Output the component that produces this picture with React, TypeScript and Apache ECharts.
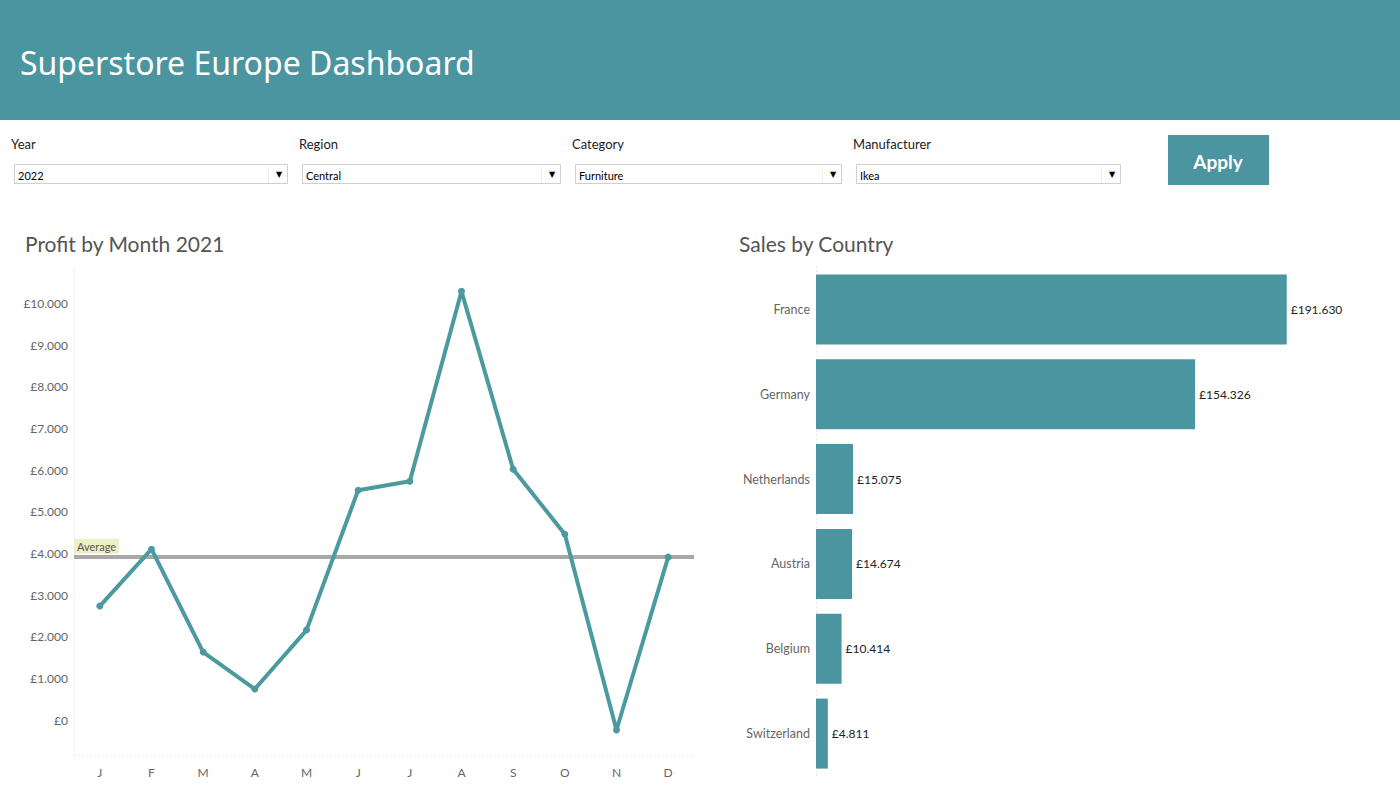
import React, { useEffect, useRef } from "react";
import * as echarts from "echarts";

const months = ["J", "F", "M", "A", "M", "J", "J", "A", "S", "O", "N", "D"];
const profit = [2734, 4100, 1630, 743, 2158, 5516, 5731, 10288, 6019, 4460, -240, 3909];
const profitTicks = [0, 1000, 2000, 3000, 4000, 5000, 6000, 7000, 8000, 9000, 10000];

const countries = ["France", "Germany", "Netherlands", "Austria", "Belgium", "Switzerland"];
const sales = [191630, 154326, 15075, 14674, 10414, 4811];

const filterLabels = ["Year", "Region", "Category", "Manufacturer"];
const filterValues = ["2022", "Central", "Furniture", "Ikea"];

const TEAL = "#4a95a0";
const LINE = "#4b9aa0";
const FONT = "Lato, 'Open Sans', sans-serif";

const fmt = (v: number) => {
  const neg = v < 0;
  const s = Math.round(Math.abs(v)).toString().replace(/\B(?=(\d{3})+(?!\d))/g, ".");
  return (neg ? "-£" : "£") + s;
};

const filterBoxes = [
  { lx: 11, bx: 14, bw: 273 },
  { lx: 299, bx: 302, bw: 258 },
  { lx: 572, bx: 575, bw: 266 },
  { lx: 853, bx: 856, bw: 264 },
];

export default function App() {
  const ref = useRef<HTMLDivElement>(null);
  useEffect(() => {
    if (!ref.current) return;
    const chart = echarts.init(ref.current, null, { renderer: "svg" });
    const graphics: any[] = [
      { type: "rect", shape: { x: 0, y: 0, width: 1400, height: 120 }, style: { fill: TEAL } },
      {
        type: "text",
        x: 20,
        y: 62,
        style: { text: "Superstore Europe Dashboard", fill: "#ffffff", fontSize: 32, fontFamily: "'Noto Sans', sans-serif", verticalAlign: "middle" },
      },
      { type: "rect", shape: { x: 1168, y: 135, width: 101, height: 50 }, style: { fill: TEAL } },
      {
        type: "text",
        x: 1218,
        y: 161,
        style: { text: "Apply", fill: "#ffffff", fontSize: 19, fontWeight: "bold", fontFamily: FONT, align: "center", verticalAlign: "middle" },
      },
      {
        type: "text",
        x: 25,
        y: 243,
        style: { text: "Profit by Month 2021", fill: "#555555", fontSize: 21, fontFamily: FONT, verticalAlign: "middle" },
      },
      {
        type: "text",
        x: 739,
        y: 243,
        style: { text: "Sales by Country", fill: "#555555", fontSize: 21, fontFamily: FONT, verticalAlign: "middle" },
      },
    ];
    filterBoxes.forEach((b, i) => {
      graphics.push(
        {
          type: "text",
          x: b.lx,
          y: 144,
          style: { text: filterLabels[i], fill: "#222222", fontSize: 13, fontFamily: FONT, verticalAlign: "middle" },
        },
        {
          type: "rect",
          shape: { x: b.bx + 0.5, y: 164.5, width: b.bw, height: 19 },
          style: { fill: "#ffffff", stroke: "#cfcfcf", lineWidth: 1 },
        },
        {
          type: "line",
          shape: { x1: b.bx + b.bw - 18.5, y1: 166, x2: b.bx + b.bw - 18.5, y2: 183 },
          style: { stroke: "#e2e2e2", lineWidth: 1, lineDash: [1, 1] },
        },
        {
          type: "text",
          x: b.bx + 4,
          y: 175,
          style: { text: filterValues[i], fill: "#000000", fontSize: 11, fontFamily: FONT, verticalAlign: "middle" },
        },
        {
          type: "text",
          x: b.bx + b.bw - 8,
          y: 174,
          style: { text: "▼", fill: "#000000", fontSize: 8, fontFamily: "DejaVu Sans", align: "center", verticalAlign: "middle" },
        }
      );
    });

    const dotted = { show: true, onZero: false, lineStyle: { color: "#e4e4e4", type: [1, 3], width: 1 } };

    chart.setOption({
      animation: false,
      backgroundColor: "#ffffff",
      textStyle: { fontFamily: FONT },
      graphic: graphics,
      grid: [
        { left: 74, top: 270, width: 620, height: 485, containLabel: false },
        { left: 816, top: 267, width: 565, height: 509, containLabel: false },
      ],
      xAxis: [
        {
          type: "category",
          gridIndex: 0,
          data: months,
          boundaryGap: true,
          axisLine: dotted,
          axisTick: { show: false },
          axisLabel: { color: "#666666", fontSize: 12, margin: 11 },
          splitLine: { show: false },
        },
        {
          type: "value",
          gridIndex: 1,
          min: 0,
          max: 230000,
          show: false,
        },
      ],
      yAxis: [
        {
          type: "value",
          gridIndex: 0,
          min: -840,
          max: 10800,
          axisLine: dotted,
          axisTick: { show: false },
          splitLine: { show: false },
          axisLabel: {
            color: "#666666",
            fontSize: 12,
            margin: 6,
            customValues: profitTicks,
            formatter: (v: number) => fmt(v),
          },
        },
        {
          type: "category",
          gridIndex: 1,
          data: countries,
          inverse: true,
          axisLine: dotted,
          axisTick: { show: false },
          axisLabel: { color: "#666666", fontSize: 12.5, margin: 6 },
        },
      ],
      series: [
        {
          type: "line",
          xAxisIndex: 0,
          yAxisIndex: 0,
          data: profit,
          symbol: "circle",
          symbolSize: 7,
          lineStyle: { color: LINE, width: 4 },
          itemStyle: { color: LINE },
          silent: true,
          z: 3,
          markLine: {
            silent: true,
            symbol: "none",
            data: [{ type: "average" }],
            lineStyle: { color: "#a8a8a8", width: 4, type: "solid" },
            z: 1,
            label: {
              show: true,
              position: "insideStartTop",
              formatter: "Average",
              color: "#555555",
              fontSize: 11,
              backgroundColor: "#efefc8",
              padding: [2, 3],
              distance: [0, 3],
            },
          },
        },
        {
          type: "bar",
          xAxisIndex: 1,
          yAxisIndex: 1,
          data: sales,
          barWidth: 70,
          itemStyle: { color: TEAL },
          silent: true,
          label: {
            show: true,
            position: "right",
            distance: 4,
            color: "#222222",
            fontSize: 12,
            formatter: (p: any) => fmt(p.value),
          },
        },
      ],
    });
    return () => chart.dispose();
  }, []);
  return <div ref={ref} style={{ position: "fixed", left: 0, top: 0, width: 1400, height: 800 }} />;
}
